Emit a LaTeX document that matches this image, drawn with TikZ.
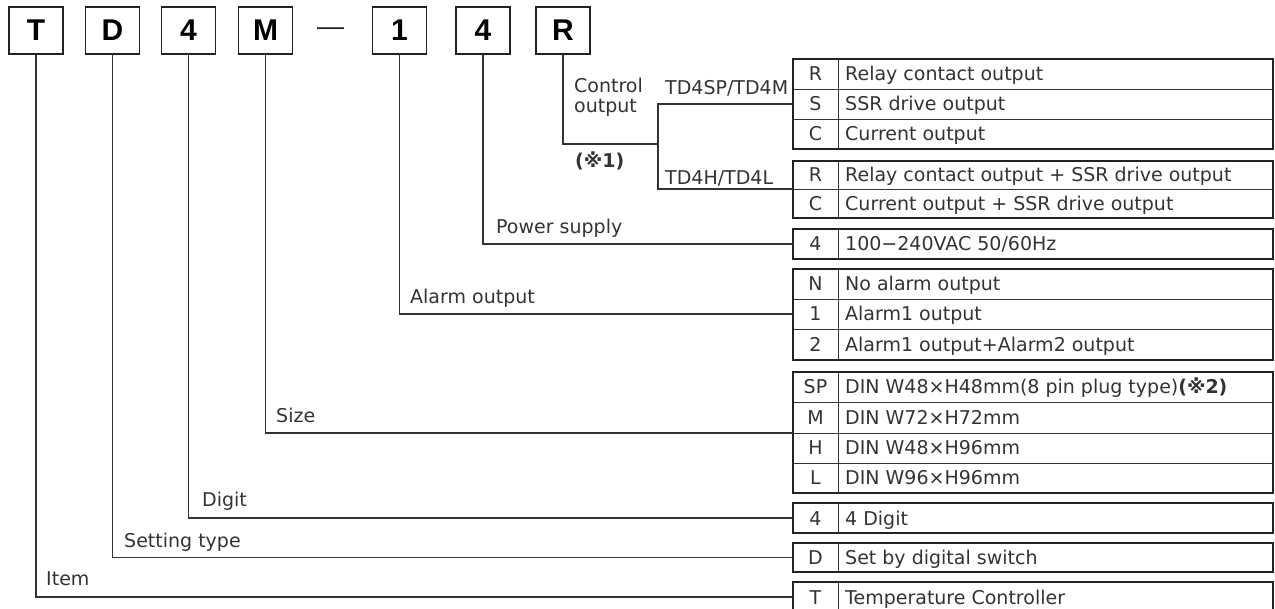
\documentclass[tikz,border=0pt]{standalone}
\usepackage{fontspec}
\setmainfont{DejaVu Sans}
\newfontfamily\boxfont{Liberation Sans}
\definecolor{ink}{HTML}{333333}
\definecolor{frame}{HTML}{222222}
\newcommand\trow[5]{%
  \node[rowbox, minimum height={#3-#2}] (#1) at (1033,{(#2+#3)/2}) {};
  \node[codetxt] at (815.5,{(#2+#3)/2+7}) {#4};
  \node[desctxt] at (845,{(#2+#3)/2+7}) {#5};
}
\tikzset{
  topbox/.style={draw=frame, line width=1.6pt, minimum width=54pt, minimum height=47pt,
    inner sep=0pt, font=\boxfont\bfseries\fontsize{30}{30}\selectfont},
  rowbox/.style={draw=ink, line width=0.9pt, minimum width=480pt, inner sep=0pt, outer sep=0pt},
  codetxt/.style={anchor=base, inner sep=0pt, text=ink, font=\fontsize{19}{22}\selectfont},
  desctxt/.style={anchor=base west, inner sep=0pt, text=ink, font=\fontsize{19}{22}\selectfont},
  lbl/.style={anchor=base west, inner sep=0pt, text=ink, font=\fontsize{19}{20}\selectfont},
  conn/.style={draw=ink, line width=1.3pt},
  outer/.style={draw=frame, line width=2.4pt},
  divider/.style={draw=ink, line width=0.9pt},
}
\begin{document}
\begin{tikzpicture}[x=1pt,y=-1pt]
\useasboundingbox (0,0) rectangle (1275,609);
% top code boxes
\node[topbox] (bT) at (36,30.5) {T};
\node[topbox] (bD) at (112.5,30.5) {D};
\node[topbox] (bDig) at (188.5,30.5) {4};
\node[topbox] (bM) at (265.5,30.5) {M};
\node[inner sep=0pt, text=frame, font=\boxfont\fontsize{27}{27}\selectfont] (dash) at (330.5,32) {—};
\node[topbox] (bA) at (399.5,30.5) {1};
\node[topbox] (bP) at (483,30.5) {4};
\node[topbox] (bR) at (563,30.5) {R};

% tables
\trow{rR1}{59}{89}{R}{Relay contact output}
\trow{rS1}{89}{119}{S}{SSR drive output}
\trow{rC1}{119}{149}{C}{Current output}
\draw[divider] (838,59) -- (838,149);
\draw[outer] (793,59) rectangle (1273,149);

\trow{rR2}{161}{189}{R}{Relay contact output + SSR drive output}
\trow{rC2}{189}{218}{C}{Current output + SSR drive output}
\draw[divider] (838,161) -- (838,218);
\draw[outer] (793,161) rectangle (1273,218);

\trow{rP}{229}{259}{4}{100−240VAC 50/60Hz}
\draw[divider] (838,229) -- (838,259);
\draw[outer] (793,229) rectangle (1273,259);

\trow{rN}{269}{299}{N}{No alarm output}
\trow{rA1}{299}{329}{1}{Alarm1 output}
\trow{rA2}{329}{360}{2}{Alarm1 output+Alarm2 output}
\draw[divider] (838,269) -- (838,360);
\draw[outer] (793,269) rectangle (1273,360);

\trow{rSP}{372}{402}{SP}{DIN W48×H48mm(8 pin plug type){\bfseries(※2)}}
\trow{rM}{402}{433}{M}{DIN W72×H72mm}
\trow{rH}{433}{463}{H}{DIN W48×H96mm}
\trow{rL}{463}{493}{L}{DIN W96×H96mm}
\draw[divider] (838,372) -- (838,493);
\draw[outer] (793,372) rectangle (1273,493);

\trow{rDig}{503}{533}{4}{4 Digit}
\draw[divider] (838,503) -- (838,533);
\draw[outer] (793,503) rectangle (1273,533);

\trow{rSet}{543}{572}{D}{Set by digital switch}
\draw[divider] (838,543) -- (838,572);
\draw[outer] (793,543) rectangle (1273,572);

\trow{rT}{582}{612}{T}{Temperature Controller}
\draw[divider] (838,582) -- (838,612);
\draw[outer] (793,582) rectangle (1273,612);

% connectors
\coordinate (split) at (658,144);
\draw[conn] (bR.south) |- (split);
\draw[conn] (rS1.west) -| (split) |- (rR2.south west);
\draw[conn] (bP.south) |- (rP.west);
\draw[conn] (bA.south) |- (rA1.west);
\draw[conn] (bM.south) |- (rM.south west);
\draw[conn] (bDig.south) |- (rDig.west);
\draw[conn] (bD.south) |- (rSet.west);
\draw[conn] (bT.south) |- (rT.west);

% labels
\node[lbl, align=left] (lCtl) at (574,113) {Control\\output};
\node[lbl, font=\bfseries\fontsize{19}{20}\selectfont] (lNote) at (575,168) {(※1)};
\node[lbl] (lSP) at (665,95) {TD4SP/TD4M};
\node[lbl] (lHL) at (665,185) {TD4H/TD4L};
\node[lbl] (lPow) at (496,234) {Power supply};
\node[lbl] (lAl) at (410,304) {Alarm output};
\node[lbl] (lSize) at (276,423) {Size};
\node[lbl] (lDig) at (202,507) {Digit};
\node[lbl] (lSet) at (124,547) {Setting type};
\node[lbl] (lItem) at (46,585) {Item};
\end{tikzpicture}
\end{document}
